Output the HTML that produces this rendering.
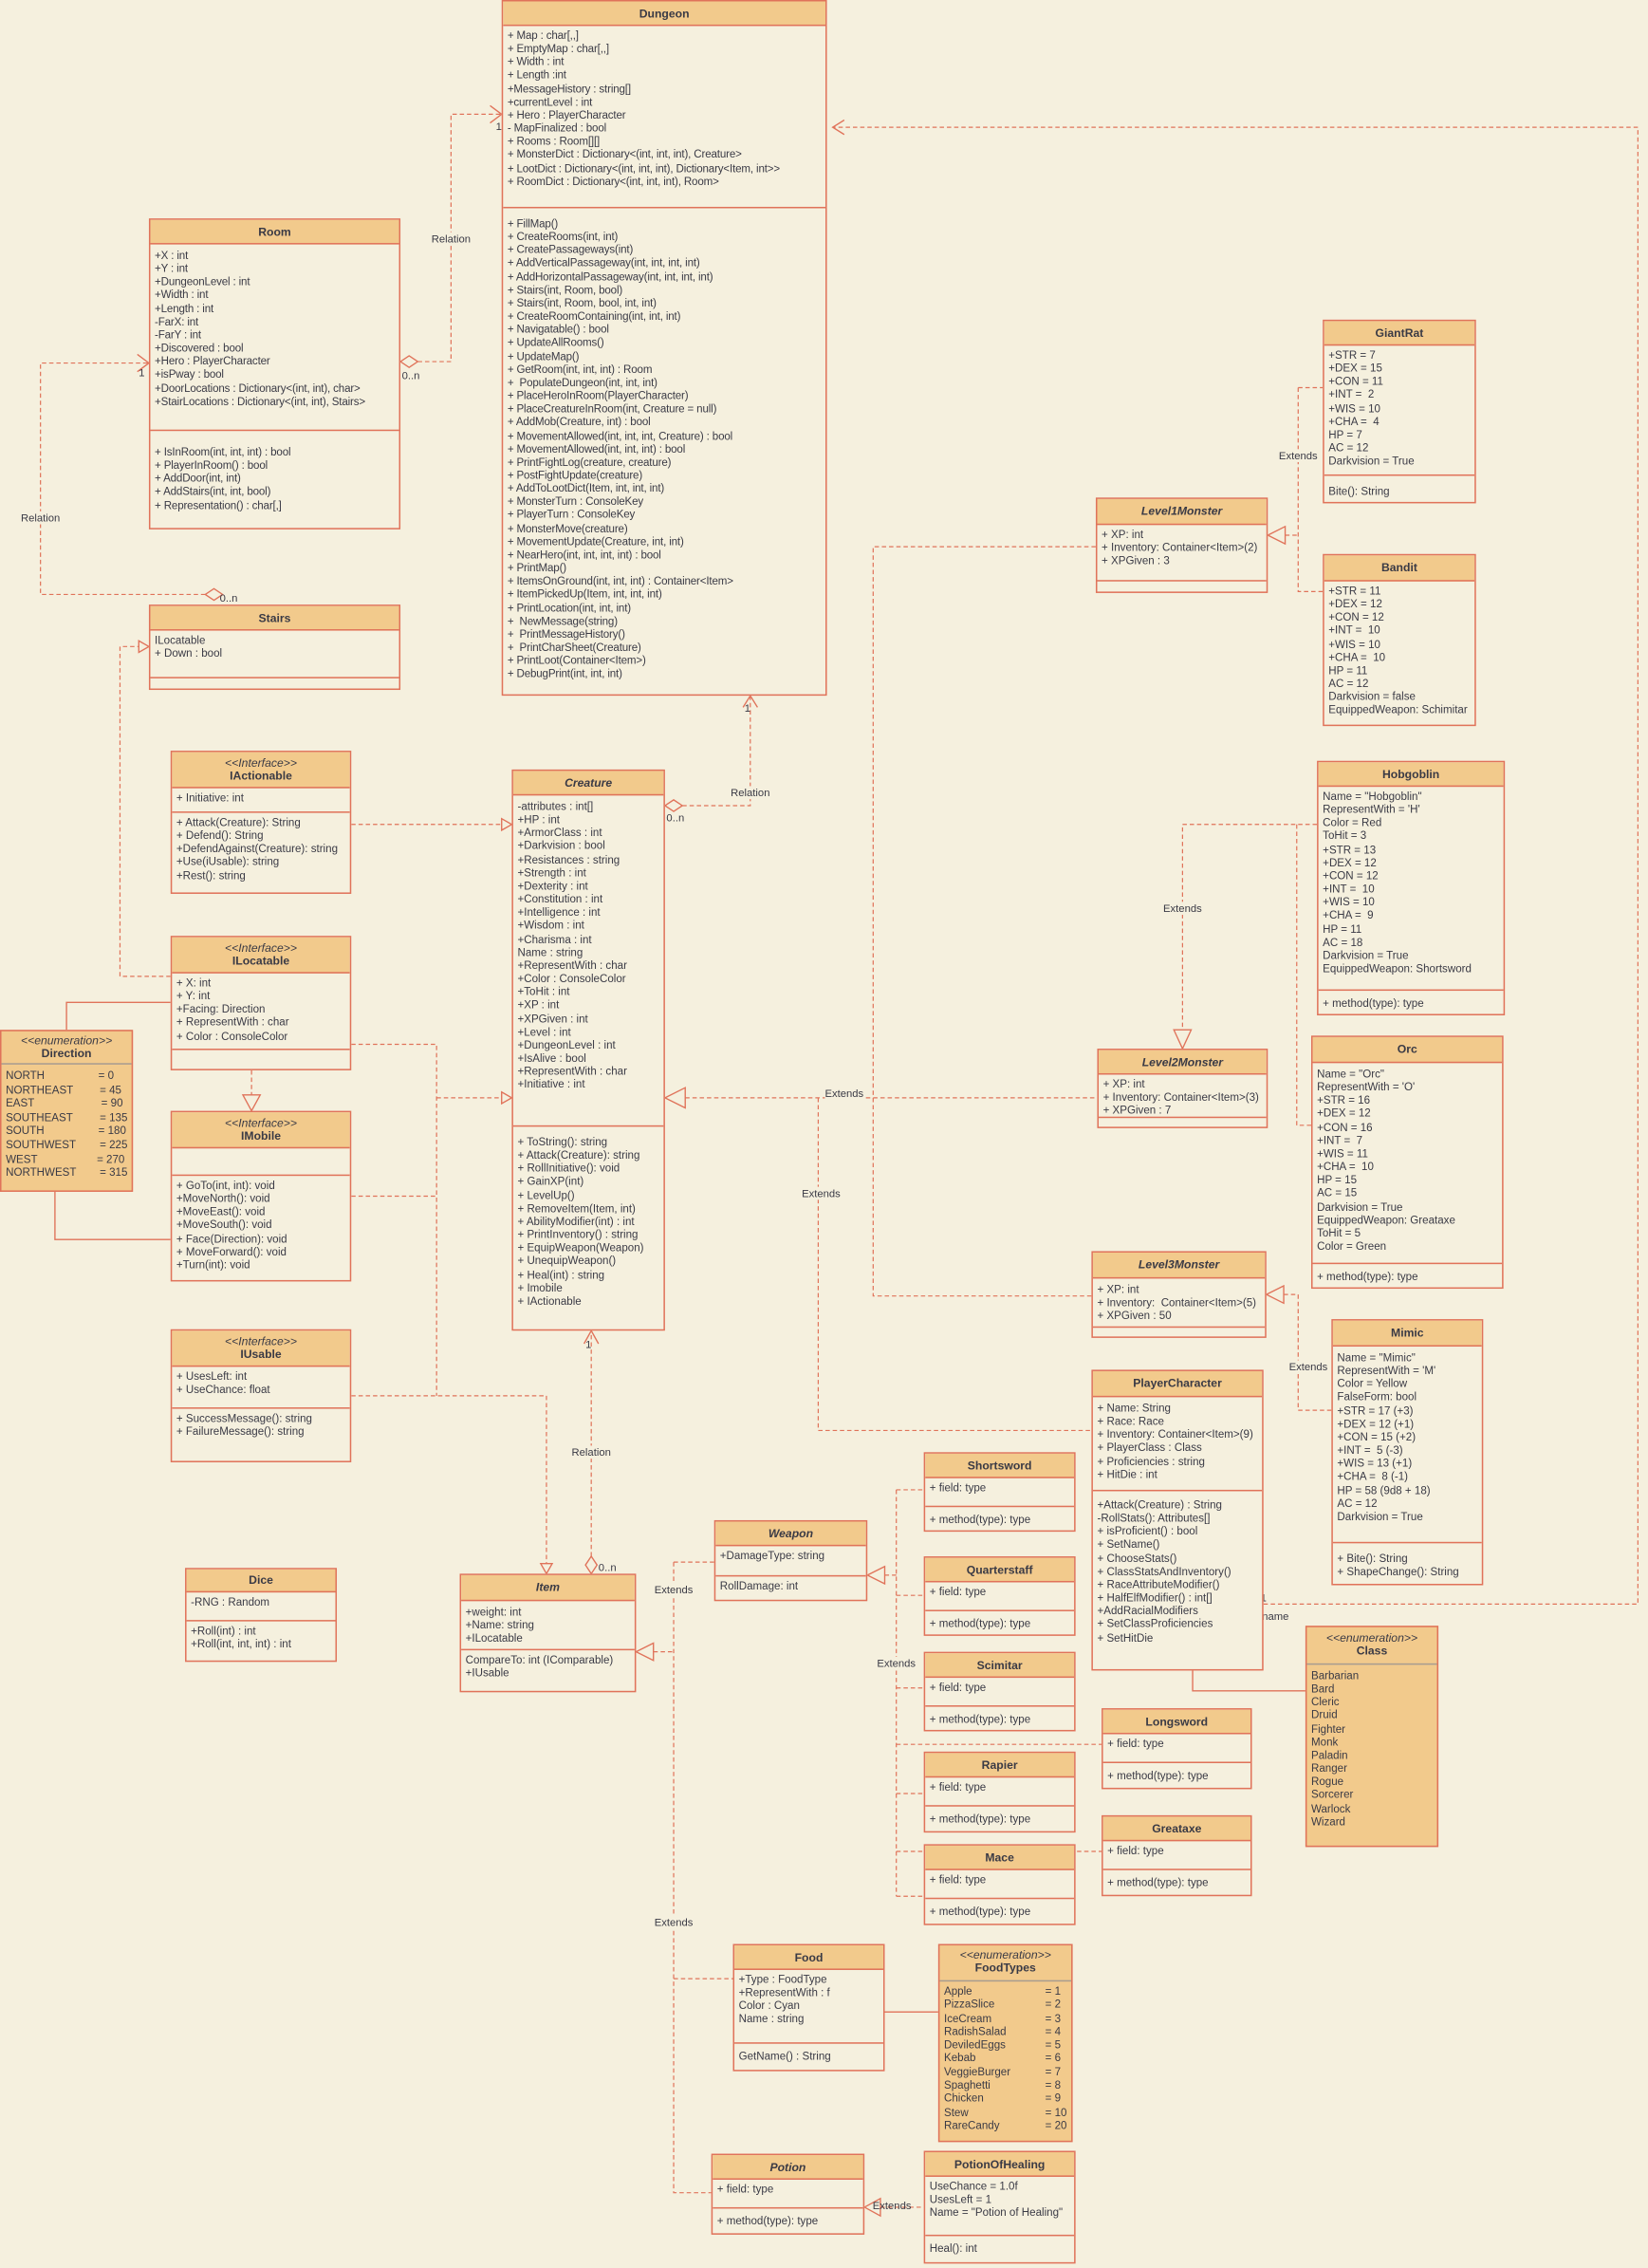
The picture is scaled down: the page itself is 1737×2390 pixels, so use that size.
<!DOCTYPE html>
<html><head><meta charset="utf-8"><style>
html,body{margin:0;padding:0;background:#f5f0de;}
#w{position:relative;width:1140px;height:1568px;transform:scale(1.5237,1.5242);transform-origin:0 0;overflow:hidden;background:#f5f0de;}
.c{position:absolute;border:1px solid #e0735a;background:#f5f0de;box-sizing:border-box;font-family:"Liberation Sans",sans-serif;font-size:7.6px;color:#3a3a45;overflow:hidden}
.h{background:#f2ca8c;border-bottom:1px solid #e0735a;text-align:center;font-weight:bold;font-size:8px;box-sizing:border-box}
.h i{font-weight:normal;display:block}
.h em{font-weight:bold;font-style:italic}
.s{border-bottom:1px solid #e0735a;padding:2px 3px 0 3px;line-height:9.15px;white-space:pre;box-sizing:border-box}
.s:last-child{border-bottom:none}
.e{background:#f2ca8c}
.e .h{border-bottom:1px solid #a89c90}
.e .s{border-bottom:none}
.cond{letter-spacing:-0.1px}
.v{display:inline-block}
svg{position:absolute;left:0;top:0}
.l{position:absolute;font-family:"Liberation Sans",sans-serif;font-size:7.4px;color:#3a3a45;background:#f5f0de;white-space:nowrap;transform:translate(-50%,-50%);line-height:9px}
.m{position:absolute;font-family:"Liberation Sans",sans-serif;font-size:7.4px;color:#3a3a45;white-space:nowrap;line-height:9px}
</style></head><body><div id="w">
<svg width="1140" height="1568" viewBox="0 0 1140 1568">
<g fill="none" stroke="#e0735a" stroke-width="0.8" stroke-dasharray="3,2">
<path d="M289,250 H312 V79 H347"/>
<path d="M142,411 H28 V251 H103"/>
<path d="M472,557 H519 V481"/>
<path d="M874,1109 H1133 V88 H576"/>
<path d="M409,1076 V920"/>
<path d="M243,570 H354"/>
<path d="M118,675 H83 V447 H103"/>
<path d="M174,740 V757"/>
<path d="M243,722 H302 V965"/>
<path d="M243,827 H302"/>
<path d="M302,759 H354"/>
<path d="M243,965 H378 V1081"/>
<path d="M889,370 H898 M898,268 H915 M898,268 V409 H915"/>
<path d="M758,378 H604 V896 H755"/>
<path d="M474,759 H759"/>
<path d="M566,759 V989 H755"/>
<path d="M911,570 H818 V712"/>
<path d="M897,570 V778 H907"/>
<path d="M921,975 H898 V895 H888"/>
<path d="M612,1089 H620 M620,1030 V1311 M620,1030 H639 M620,1103 H639 M620,1167 H639 M620,1240 H639 M620,1311 H639 M620,1206 H762 M620,1280 H762"/>
<path d="M452,1142 H466 M466,1080 V1516 H492 M466,1080 H494 M466,1368 H507"/>
<path d="M609,1526 H639"/>
</g>
<g fill="none" stroke="#e0735a" stroke-width="0.9">
<path d="M46,712 V693 H118"/>
<path d="M38,824 V857 H118"/>
<path d="M825,1155 V1169 H903"/>
<path d="M612,1391 H649"/>
<polyline points="339,73 347,79 339,85"/>
<polyline points="95,245 103,251 95,257"/>
<polyline points="584,83 576,88 584,93"/>
<polyline points="514,489 519,481 524,489"/>
<polyline points="404,929 409,920 414,929"/>
</g>
<g fill="#f5f0de" stroke="#e0735a" stroke-width="0.9">
<polygon points="374,1081 378,1088 382,1081"/>
<polygon points="96,443 103,447 96,451"/>
<polygon points="347,566 354,570 347,574"/>
<polygon points="347,755 354,759 347,763"/>
<polygon points="168,757 174,768 180,757"/>
<polygon points="877,370 889,364 889,376"/>
<polygon points="460,759 474,752 474,766"/>
<polygon points="818,725 812,712 824,712"/>
<polygon points="876,895 888,889 888,901"/>
<polygon points="600,1089 612,1083 612,1095"/>
<polygon points="440,1142 452,1136 452,1148"/>
<polygon points="598,1526 609,1520 609,1532"/>
<polygon points="277,250 283,246 289,250 283,254"/>
<polygon points="142,411 148,407 154,411 148,415"/>
<polygon points="460,557 466,553 472,557 466,561"/>
<polygon points="409,1088 405,1082 409,1076 413,1082"/>
</g>
</svg>

<div class="l" style="left:312px;top:165px">Relation</div>
<div class="l" style="left:28px;top:358px">Relation</div>
<div class="l" style="left:519px;top:548px">Relation</div>
<div class="l" style="left:409px;top:1004px">Relation</div>
<div class="l" style="left:898px;top:315px">Extends</div>
<div class="l" style="left:818px;top:628px">Extends</div>
<div class="l" style="left:584px;top:756px">Extends</div>
<div class="l" style="left:568px;top:825px">Extends</div>
<div class="l" style="left:905px;top:945px">Extends</div>
<div class="l" style="left:620px;top:1150px">Extends</div>
<div class="l" style="left:466px;top:1099px">Extends</div>
<div class="l" style="left:466px;top:1329px">Extends</div>
<div class="l" style="left:617px;top:1525px;background:none">Extends</div>
<div class="m" style="left:278px;top:255px">0..n</div>
<div class="m" style="left:343px;top:83px">1</div>
<div class="m" style="left:96px;top:253px">1</div>
<div class="m" style="left:152px;top:409px">0..n</div>
<div class="m" style="left:461px;top:561px">0..n</div>
<div class="m" style="left:515px;top:485px">1</div>
<div class="m" style="left:405px;top:925px">1</div>
<div class="m" style="left:414px;top:1079px">0..n</div>
<div class="m" style="left:872px;top:1100px">1</div>
<div class="m" style="left:873px;top:1113px">name</div>

<div class="c" style="left:347px;top:0;width:225px;height:481px"><div class="h" style="height:17px;line-height:17px">Dungeon</div><div class="s cond" style="height:126px">+ Map : char[,,]
+ EmptyMap : char[,,]
+ Width : int
+ Length :int
+MessageHistory : string[]
+currentLevel : int
+ Hero : PlayerCharacter
- MapFinalized : bool
+ Rooms : Room[][]
+ MonsterDict : Dictionary&lt;(int, int, int), Creature&gt;
+ LootDict : Dictionary&lt;(int, int, int), Dictionary&lt;Item, int&gt;&gt;
+ RoomDict : Dictionary&lt;(int, int, int), Room&gt;</div><div class="s cond" style="padding-top:6px">+ FillMap()
+ CreateRooms(int, int)
+ CreatePassageways(int)
+ AddVerticalPassageway(int, int, int, int)
+ AddHorizontalPassageway(int, int, int, int)
+ Stairs(int, Room, bool)
+ Stairs(int, Room, bool, int, int)
+ CreateRoomContaining(int, int, int)
+ Navigatable() : bool
+ UpdateAllRooms()
+ UpdateMap()
+ GetRoom(int, int, int) : Room
+  PopulateDungeon(int, int, int)
+ PlaceHeroInRoom(PlayerCharacter)
+ PlaceCreatureInRoom(int, Creature = null)
+ AddMob(Creature, int) : bool
+ MovementAllowed(int, int, int, Creature) : bool
+ MovementAllowed(int, int, int) : bool
+ PrintFightLog(creature, creature)
+ PostFightUpdate(creature)
+ AddToLootDict(Item, int, int, int)
+ MonsterTurn : ConsoleKey
+ PlayerTurn : ConsoleKey
+ MonsterMove(creature)
+ MovementUpdate(Creature, int, int)
+ NearHero(int, int, int, int) : bool
+ PrintMap()
+ ItemsOnGround(int, int, int) : Container&lt;Item&gt;
+ ItemPickedUp(Item, int, int, int)
+ PrintLocation(int, int, int)
+  NewMessage(string)
+  PrintMessageHistory()
+  PrintCharSheet(Creature)
+ PrintLoot(Container&lt;Item&gt;)
+ DebugPrint(int, int, int)</div></div>

<div class="c" style="left:103px;top:151px;width:174px;height:215px"><div class="h" style="height:17px;line-height:17px">Room</div><div class="s cond" style="height:129px;padding-top:3px">+X : int
+Y : int
+DungeonLevel : int
+Width : int
+Length : int
-FarX: int
-FarY : int
+Discovered : bool
+Hero : PlayerCharacter
+isPway : bool
+DoorLocations : Dictionary&lt;(int, int), char&gt;
+StairLocations : Dictionary&lt;(int, int), Stairs&gt;</div><div class="s cond" style="padding-top:10px">+ IsInRoom(int, int, int) : bool
+ PlayerInRoom() : bool
+ AddDoor(int, int)
+ AddStairs(int, int, bool)
+ Representation() : char[,]</div></div>

<div class="c" style="left:103px;top:418px;width:174px;height:59px"><div class="h" style="height:17px;line-height:17px">Stairs</div><div class="s" style="height:33px">ILocatable
+ Down : bool</div><div class="s"></div></div>

<div class="c" style="left:118px;top:519px;width:125px;height:99px"><div class="h" style="height:25px;line-height:9px;padding-top:3px"><i>&lt;&lt;Interface&gt;&gt;</i>IActionable</div><div class="s" style="height:17px">+ Initiative: int</div><div class="s">+ Attack(Creature): String
+ Defend(): String
+DefendAgainst(Creature): string
+Use(iUsable): string
+Rest(): string</div></div>

<div class="c" style="left:118px;top:647px;width:125px;height:93px"><div class="h" style="height:25px;line-height:9px;padding-top:3px"><i>&lt;&lt;Interface&gt;&gt;</i>ILocatable</div><div class="s" style="height:53px">+ X: int
+ Y: int
+Facing: Direction
+ RepresentWith : char
+ Color : ConsoleColor</div><div class="s"></div></div>

<div class="c e" style="left:0;top:712px;width:92px;height:112px"><div class="h" style="height:23px;line-height:9px;padding-top:2px;background:none"><i>&lt;&lt;enumeration&gt;&gt;</i>Direction</div><div class="s" style="padding-top:3px;line-height:9.6px"><span class="v" style="width:64px">NORTH</span>= 0
<span class="v" style="width:65px">NORTHEAST</span>= 45
<span class="v" style="width:66px">EAST</span>= 90
<span class="v" style="width:65px">SOUTHEAST</span>= 135
<span class="v" style="width:64px">SOUTH</span>= 180
<span class="v" style="width:65px">SOUTHWEST</span>= 225
<span class="v" style="width:63px">WEST</span>= 270
<span class="v" style="width:65px">NORTHWEST</span>= 315</div></div>

<div class="c" style="left:118px;top:768px;width:125px;height:118px"><div class="h" style="height:25px;line-height:9px;padding-top:3px"><i>&lt;&lt;Interface&gt;&gt;</i>IMobile</div><div class="s" style="height:19px"></div><div class="s">+ GoTo(int, int): void
+MoveNorth(): void
+MoveEast(): void
+MoveSouth(): void
+ Face(Direction): void
+ MoveForward(): void
+Turn(int): void</div></div>

<div class="c" style="left:118px;top:919px;width:125px;height:92px"><div class="h" style="height:25px;line-height:9px;padding-top:3px"><i>&lt;&lt;Interface&gt;&gt;</i>IUsable</div><div class="s" style="height:29px">+ UsesLeft: int
+ UseChance: float</div><div class="s">+ SuccessMessage(): string
+ FailureMessage(): string</div></div>

<div class="c" style="left:128px;top:1084px;width:105px;height:65px"><div class="h" style="height:16px;line-height:16px">Dice</div><div class="s" style="height:20px">-RNG : Random</div><div class="s">+Roll(int) : int
+Roll(int, int, int) : int</div></div>

<div class="c" style="left:354px;top:532px;width:106px;height:388px"><div class="h" style="height:17px;line-height:17px"><em>Creature</em></div><div class="s" style="height:229px;padding-top:3px">-attributes : int[]
+HP : int
+ArmorClass : int
+Darkvision : bool
+Resistances : string
+Strength : int
+Dexterity : int
+Constitution : int
+Intelligence : int
+Wisdom : int
+Charisma : int
Name : string
+RepresentWith : char
+Color : ConsoleColor
+ToHit : int
+XP : int
+XPGiven : int
+Level : int
+DungeonLevel : int
+IsAlive : bool
+RepresentWith : char
+Initiative : int</div><div class="s" style="padding-top:6px">+ ToString(): string
+ Attack(Creature): string
+ RollInitiative(): void
+ GainXP(int)
+ LevelUp()
+ RemoveItem(Item, int)
+ AbilityModifier(int) : int
+ PrintInventory() : string
+ EquipWeapon(Weapon)
+ UnequipWeapon()
+ Heal(int) : string
+ Imobile
+ IActionable</div></div>

<div class="c" style="left:318px;top:1088px;width:122px;height:82px"><div class="h" style="height:18px;line-height:18px"><em>Item</em></div><div class="s" style="height:34px;padding-top:3px">+weight: int
+Name: string
+ILocatable</div><div class="s">CompareTo: int (IComparable)
+IUsable</div></div>

<div class="c" style="left:494px;top:1051px;width:106px;height:56px"><div class="h" style="height:17px;line-height:17px"><em>Weapon</em></div><div class="s" style="height:21px">+DamageType: string</div><div class="s">RollDamage: int</div></div>

<div class="c" style="left:758px;top:344px;width:119px;height:66px"><div class="h" style="height:18px;line-height:18px"><em>Level1Monster</em></div><div class="s" style="height:39px">+ XP: int
+ Inventory: Container&lt;Item&gt;(2)
+ XPGiven : 3</div><div class="s"></div></div>

<div class="c" style="left:915px;top:221px;width:106px;height:127px"><div class="h" style="height:17px;line-height:17px">GiantRat</div><div class="s" style="height:90px">+STR = 7
+DEX = 15
+CON = 11
+INT =  2
+WIS = 10
+CHA =  4
HP = 7
AC = 12
Darkvision = True</div><div class="s" style="padding-top:6px">Bite(): String</div></div>

<div class="c" style="left:915px;top:383px;width:106px;height:119px"><div class="h" style="height:18px;line-height:18px">Bandit</div><div class="s">+STR = 11
+DEX = 12
+CON = 12
+INT =  10
+WIS = 10
+CHA =  10
HP = 11
AC = 12
Darkvision = false
EquippedWeapon: Schimitar</div></div>

<div class="c" style="left:911px;top:526px;width:130px;height:176px"><div class="h" style="height:17px;line-height:17px">Hobgoblin</div><div class="s" style="height:141px">Name = "Hobgoblin"
RepresentWith = 'H'
Color = Red
ToHit = 3
+STR = 13
+DEX = 12
+CON = 12
+INT =  10
+WIS = 10
+CHA =  9
HP = 11
AC = 18
Darkvision = True
EquippedWeapon: Shortsword</div><div class="s" style="padding-top:4px">+ method(type): type</div></div>

<div class="c" style="left:759px;top:725px;width:118px;height:55px"><div class="h" style="height:17px;line-height:17px"><em>Level2Monster</em></div><div class="s" style="height:30px">+ XP: int
+ Inventory: Container&lt;Item&gt;(3)
+ XPGiven : 7</div><div class="s"></div></div>

<div class="c" style="left:907px;top:716px;width:133px;height:175px"><div class="h" style="height:18px;line-height:18px">Orc</div><div class="s" style="height:139px;padding-top:3px">Name = "Orc"
RepresentWith = 'O'
+STR = 16
+DEX = 12
+CON = 16
+INT =  7
+WIS = 11
+CHA =  10
HP = 15
AC = 15
Darkvision = True
EquippedWeapon: Greataxe
ToHit = 5
Color = Green</div><div class="s" style="padding-top:4px">+ method(type): type</div></div>

<div class="c" style="left:755px;top:865px;width:121px;height:60px"><div class="h" style="height:18px;line-height:18px"><em>Level3Monster</em></div><div class="s" style="height:34px;padding-top:3px">+ XP: int
+ Inventory:  Container&lt;Item&gt;(5)
+ XPGiven : 50</div><div class="s"></div></div>

<div class="c" style="left:921px;top:912px;width:105px;height:184px"><div class="h" style="height:18px;line-height:18px">Mimic</div><div class="s" style="height:136px;padding-top:3px">Name = "Mimic"
RepresentWith = 'M'
Color = Yellow
FalseForm: bool
+STR = 17 (+3)
+DEX = 12 (+1)
+CON = 15 (+2)
+INT =  5 (-3)
+WIS = 13 (+1)
+CHA =  8 (-1)
HP = 58 (9d8 + 18)
AC = 12
Darkvision = True</div><div class="s" style="padding-top:6px">+ Bite(): String
+ ShapeChange(): String</div></div>

<div class="c" style="left:755px;top:947px;width:119px;height:208px"><div class="h" style="height:18px;line-height:18px">PlayerCharacter</div><div class="s" style="height:65px;padding-top:3px">+ Name: String
+ Race: Race
+ Inventory: Container&lt;Item&gt;(9)
+ PlayerClass : Class
+ Proficiencies : string
+ HitDie : int</div><div class="s" style="padding-top:5px">+Attack(Creature) : String
-RollStats(): Attributes[]
+ isProficient() : bool
+ SetName()
+ ChooseStats()
+ ClassStatsAndInventory()
+ RaceAttributeModifier()
+ HalfElfModifier() : int[]
+AddRacialModifiers
+ SetClassProficiencies
+ SetHitDie</div></div>

<div class="c e" style="left:903px;top:1124px;width:92px;height:153px"><div class="h" style="height:26px;line-height:9px;padding-top:3px;background:none"><i>&lt;&lt;enumeration&gt;&gt;</i>Class</div><div class="s" style="padding-top:3px">Barbarian
Bard
Cleric
Druid
Fighter
Monk
Paladin
Ranger
Rogue
Sorcerer
Warlock
Wizard</div></div>

<div class="c" style="left:639px;top:1004px;width:105px;height:55px"><div class="h" style="height:17px;line-height:17px">Shortsword</div><div class="s" style="height:20px">+ field: type</div><div class="s" style="padding-top:4px">+ method(type): type</div></div>
<div class="c" style="left:639px;top:1076px;width:105px;height:55px"><div class="h" style="height:17px;line-height:17px">Quarterstaff</div><div class="s" style="height:20px">+ field: type</div><div class="s" style="padding-top:4px">+ method(type): type</div></div>
<div class="c" style="left:639px;top:1142px;width:105px;height:55px"><div class="h" style="height:17px;line-height:17px">Scimitar</div><div class="s" style="height:20px">+ field: type</div><div class="s" style="padding-top:4px">+ method(type): type</div></div>
<div class="c" style="left:762px;top:1181px;width:104px;height:56px"><div class="h" style="height:17px;line-height:17px">Longsword</div><div class="s" style="height:20px">+ field: type</div><div class="s" style="padding-top:4px">+ method(type): type</div></div>
<div class="c" style="left:639px;top:1211px;width:105px;height:56px"><div class="h" style="height:17px;line-height:17px">Rapier</div><div class="s" style="height:20px">+ field: type</div><div class="s" style="padding-top:4px">+ method(type): type</div></div>
<div class="c" style="left:762px;top:1255px;width:104px;height:56px"><div class="h" style="height:17px;line-height:17px">Greataxe</div><div class="s" style="height:20px">+ field: type</div><div class="s" style="padding-top:4px">+ method(type): type</div></div>
<div class="c" style="left:639px;top:1275px;width:105px;height:56px"><div class="h" style="height:17px;line-height:17px">Mace</div><div class="s" style="height:20px">+ field: type</div><div class="s" style="padding-top:4px">+ method(type): type</div></div>

<div class="c" style="left:507px;top:1344px;width:105px;height:88px"><div class="h" style="height:17px;line-height:17px">Food</div><div class="s" style="height:51px">+Type : FoodType
+RepresentWith : f
Color : Cyan
Name : string</div><div class="s" style="padding-top:4px">GetName() : String</div></div>

<div class="c e" style="left:649px;top:1344px;width:93px;height:137px"><div class="h" style="height:25px;line-height:9px;padding-top:2px;background:none"><i>&lt;&lt;enumeration&gt;&gt;</i>FoodTypes</div><div class="s" style="line-height:9.3px"><span class="v" style="width:70px">Apple</span>= 1
<span class="v" style="width:70px">PizzaSlice</span>= 2
<span class="v" style="width:70px">IceCream</span>= 3
<span class="v" style="width:70px">RadishSalad</span>= 4
<span class="v" style="width:70px">DeviledEggs</span>= 5
<span class="v" style="width:70px">Kebab</span>= 6
<span class="v" style="width:70px">VeggieBurger</span>= 7
<span class="v" style="width:70px">Spaghetti</span>= 8
<span class="v" style="width:70px">Chicken</span>= 9
<span class="v" style="width:70px">Stew</span>= 10
<span class="v" style="width:70px">RareCandy</span>= 20</div></div>

<div class="c" style="left:492px;top:1489px;width:106px;height:56px"><div class="h" style="height:17px;line-height:17px"><em>Potion</em></div><div class="s" style="height:20px">+ field: type</div><div class="s" style="padding-top:4px">+ method(type): type</div></div>

<div class="c" style="left:639px;top:1487px;width:105px;height:78px"><div class="h" style="height:17px;line-height:17px">PotionOfHealing</div><div class="s" style="height:41px">UseChance = 1.0f
UsesLeft = 1
Name = "Potion of Healing"</div><div class="s" style="padding-top:4px">Heal(): int</div></div>

</div></body></html>
